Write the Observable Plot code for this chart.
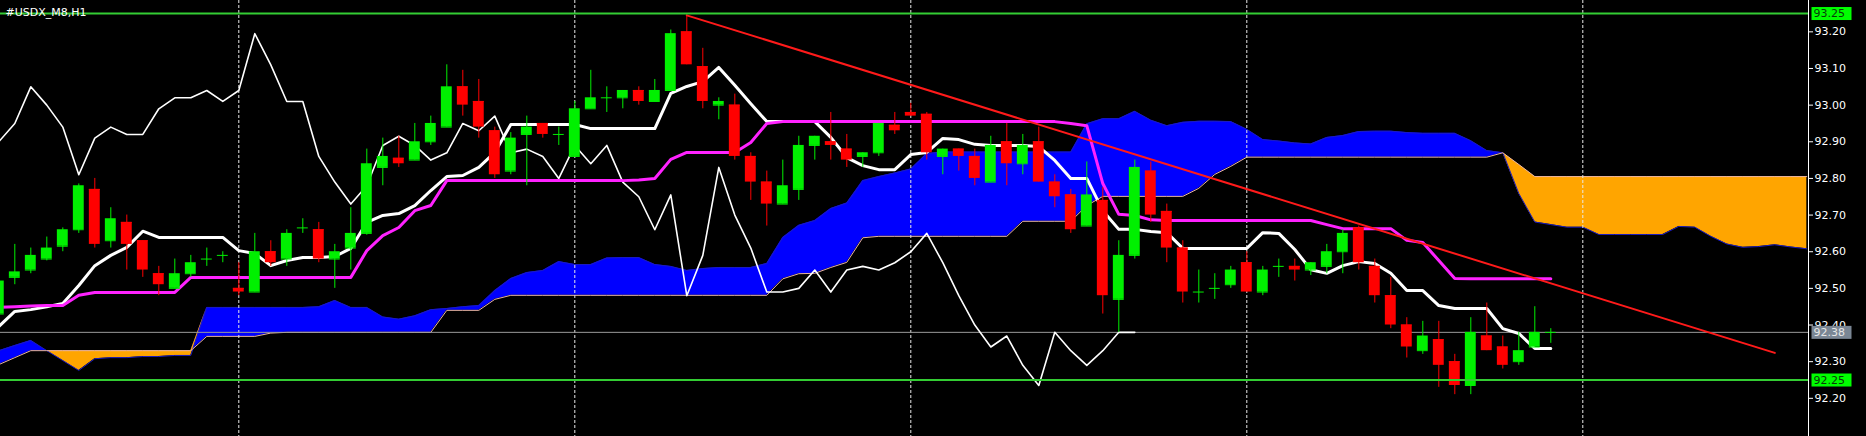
<!DOCTYPE html>
<html>
<head>
<meta charset="utf-8">
<script src="https://cdn.jsdelivr.net/npm/d3@7"></script>
<script src="https://cdn.jsdelivr.net/npm/@observablehq/plot@0.6"></script>
<style>
  html, body { margin: 0; padding: 0; background: #000; overflow: hidden; }
  #chart svg { display: block; }
</style>
</head>
<body>
<div id="chart"></div>
<script>
// ---- Data (USDX H1 candles, index 0..97) ----
const titleText = "#USDX_M8,H1";
const open  = [92.43,92.53,92.55,92.58,92.615,92.66,92.77,92.63,92.68,92.63,92.54,92.50,92.54,92.58,92.59,92.50,92.49,92.60,92.58,92.665,
               92.66,92.58,92.61,92.65,92.83,92.855,92.85,92.90,92.94,93.05,93.01,92.93,92.82,92.92,92.95,92.92,92.86,92.99,93.02,93.02,
               93.04,93.01,93.04,93.20,93.105,93.00,93.00,92.86,92.79,92.73,92.77,92.89,92.90,92.88,92.86,92.87,92.945,92.98,92.975,92.86,
               92.88,92.86,92.79,92.90,92.84,92.90,92.79,92.755,92.67,92.74,92.47,92.59,92.82,92.71,92.61,92.49,92.50,92.51,92.57,92.49,
               92.56,92.56,92.55,92.56,92.60,92.665,92.56,92.48,92.40,92.33,92.36,92.30,92.235,92.37,92.34,92.30,92.34,92.38];
const high  = [92.55,92.62,92.61,92.64,92.665,92.785,92.80,92.72,92.70,92.63,92.56,92.58,92.59,92.61,92.60,92.57,92.65,92.63,92.66,92.69,
               92.68,92.62,92.72,92.88,92.91,92.915,92.95,92.97,93.11,93.095,93.07,92.94,92.925,92.97,92.95,92.94,93.01,93.095,93.05,93.04,
               93.05,93.07,93.205,93.245,93.155,93.02,93.03,92.87,92.82,92.85,92.915,92.915,92.98,92.92,92.87,92.95,92.98,93.005,92.98,92.88,
               92.88,92.88,92.915,92.95,92.92,92.94,92.81,92.77,92.845,92.775,92.63,92.85,92.845,92.73,92.63,92.55,92.54,92.56,92.60,92.56,
               92.58,92.58,92.57,92.62,92.66,92.67,92.58,92.53,92.42,92.41,92.41,92.32,92.42,92.46,92.37,92.38,92.45,92.39];
const low   = [92.42,92.51,92.54,92.575,92.60,92.65,92.61,92.61,92.55,92.53,92.48,92.50,92.53,92.56,92.57,92.48,92.49,92.56,92.56,92.65,
               92.57,92.50,92.55,92.645,92.78,92.83,92.85,92.89,92.94,92.97,92.91,92.80,92.81,92.78,92.91,92.89,92.86,92.99,92.98,92.99,
               93.00,93.01,93.04,93.11,92.99,92.96,92.85,92.74,92.67,92.73,92.74,92.85,92.85,92.83,92.83,92.86,92.92,92.97,92.85,92.81,
               92.82,92.78,92.79,92.78,92.81,92.79,92.72,92.65,92.67,92.43,92.38,92.58,92.68,92.57,92.46,92.46,92.47,92.50,92.49,92.48,
               92.53,92.52,92.535,92.54,92.54,92.55,92.46,92.39,92.31,92.32,92.23,92.21,92.21,92.33,92.28,92.29,92.34,92.35];
const close = [92.52,92.545,92.59,92.61,92.66,92.78,92.62,92.69,92.62,92.55,92.51,92.54,92.57,92.58,92.59,92.49,92.60,92.57,92.65,92.665,
               92.58,92.60,92.65,92.84,92.86,92.84,92.90,92.95,93.05,93.00,92.94,92.81,92.91,92.94,92.92,92.92,92.99,93.02,93.02,93.04,
               93.01,93.04,93.195,93.11,93.01,93.01,92.86,92.79,92.73,92.78,92.89,92.915,92.89,92.85,92.87,92.95,92.93,92.97,92.87,92.88,
               92.86,92.80,92.89,92.84,92.89,92.79,92.75,92.66,92.755,92.48,92.59,92.83,92.70,92.61,92.49,92.49,92.50,92.55,92.49,92.55,
               92.56,92.55,92.57,92.60,92.65,92.57,92.48,92.40,92.34,92.37,92.29,92.235,92.38,92.33,92.29,92.33,92.38,92.38];

// Ichimoku lines
const tenkan = [92.396,92.437,92.442,92.450,92.459,92.508,92.562,92.590,92.612,92.656,
                92.639,92.639,92.639,92.639,92.639,92.603,92.595,92.562,92.576,92.584,
                92.584,92.587,92.609,92.680,92.699,92.704,92.726,92.767,92.805,92.808,
                92.830,92.871,92.947,92.947,92.947,92.947,92.947,92.936,92.936,92.936,
                92.936,92.936,93.032,93.051,93.064,93.103,93.054,93.004,92.955,92.955,
                92.955,92.955,92.912,92.857,92.835,92.824,92.824,92.865,92.871,92.909,
                92.906,92.893,92.890,92.890,92.890,92.887,92.849,92.800,92.800,92.712,
                92.661,92.661,92.655,92.652,92.609,92.609,92.609,92.609,92.609,92.652,
                92.650,92.606,92.551,92.541,92.562,92.573,92.568,92.541,92.494,92.494,
                92.453,92.445,92.445,92.445,92.390,92.377,92.336,92.336];
const kijun  = [92.448,92.450,92.452,92.453,92.453,92.481,92.489,92.489,92.489,92.489,
                92.489,92.489,92.530,92.530,92.530,92.530,92.530,92.530,92.530,92.530,
                92.530,92.530,92.530,92.603,92.644,92.666,92.712,92.726,92.794,92.794,
                92.794,92.794,92.794,92.794,92.794,92.794,92.794,92.794,92.794,92.794,
                92.796,92.800,92.852,92.871,92.871,92.871,92.871,92.898,92.950,92.955,
                92.955,92.955,92.955,92.955,92.955,92.955,92.955,92.955,92.955,92.955,
                92.955,92.955,92.955,92.955,92.955,92.955,92.955,92.950,92.944,92.786,
                92.702,92.699,92.687,92.685,92.685,92.685,92.685,92.685,92.685,92.685,
                92.685,92.685,92.685,92.674,92.663,92.663,92.663,92.663,92.631,92.625,
                92.576,92.527,92.526,92.526,92.526,92.526,92.526,92.526];
// Cloud (index 0..113, extends into the future)
const senkouA = [92.330,92.344,92.358,92.330,92.303,92.276,92.308,92.311,92.311,92.314,
                 92.314,92.317,92.317,92.448,92.448,92.448,92.448,92.448,92.448,92.448,
                 92.450,92.467,92.448,92.448,92.422,92.416,92.425,92.442,92.445,92.450,
                 92.453,92.494,92.527,92.543,92.549,92.573,92.565,92.565,92.583,92.584,
                 92.584,92.565,92.560,92.549,92.554,92.557,92.557,92.557,92.568,92.639,
                 92.672,92.685,92.718,92.733,92.794,92.805,92.815,92.826,92.868,92.872,
                 92.872,92.872,92.872,92.872,92.872,92.872,92.872,92.872,92.949,92.963,
                 92.963,92.983,92.959,92.944,92.953,92.956,92.956,92.955,92.934,92.906,
                 92.902,92.897,92.894,92.912,92.917,92.928,92.929,92.929,92.925,92.923,
                 92.923,92.923,92.903,92.876,92.870,92.759,92.681,92.674,92.667,92.667,
                 92.647,92.647,92.647,92.647,92.647,92.669,92.667,92.642,92.621,92.612,
                 92.614,92.619,92.613,92.608];
const senkouB = [92.292,92.311,92.330,92.330,92.330,92.330,92.330,92.330,92.330,92.330,
                 92.330,92.330,92.330,92.369,92.369,92.369,92.369,92.378,92.380,92.380,
                 92.380,92.380,92.380,92.380,92.380,92.380,92.380,92.380,92.440,92.440,
                 92.440,92.470,92.481,92.481,92.481,92.481,92.481,92.481,92.481,92.481,
                 92.481,92.481,92.481,92.481,92.481,92.481,92.481,92.481,92.481,92.526,
                 92.540,92.541,92.557,92.571,92.638,92.642,92.642,92.642,92.642,92.642,
                 92.642,92.642,92.642,92.642,92.683,92.683,92.683,92.683,92.726,92.751,
                 92.751,92.751,92.751,92.751,92.751,92.773,92.811,92.833,92.858,92.858,
                 92.858,92.858,92.858,92.858,92.858,92.858,92.858,92.858,92.858,92.858,
                 92.858,92.858,92.858,92.858,92.870,92.838,92.805,92.805,92.805,92.805,
                 92.805,92.805,92.805,92.805,92.805,92.805,92.805,92.805,92.805,92.805,
                 92.805,92.805,92.805,92.805];

// Trend line, levels, grid, ticks
const trendIdx   = [43, 111];
const trendPrice = [93.245, 92.324];
const levels     = [93.25, 92.25];
const bidPrice   = 92.38;
const gridIdx    = [15, 36, 57, 78, 99];
const yTicks     = [92.20,92.30,92.40,92.50,92.60,92.70,92.80,92.90,93.00,93.10,93.20];

// ---- Tables built from the arrays ----
const candles = open.map((o, i) => ({i, o, h: high[i], l: low[i], c: close[i]}));
const cloud = senkouA.map((a, i) => ({i, a, b: senkouB[i]}));
const lines = tenkan.map((t, i) => ({i, t, k: kijun[i]}));
// Chikou span: close plotted 26 bars back
const chikou = close.slice(25).map((c, k) => ({i: k - 1, v: c}));
const trend = trendIdx.map((i, k) => ({i, p: trendPrice[k]}));

const xDomain = [0.10625, 113.10625];
const yDomain = [92.0958, 93.2855];
const up = "#00f000", down = "#ff0000";
const col = d => d.c >= d.o ? up : down;

const svg = Plot.plot({
  width: 1866, height: 436,
  marginLeft: 0, marginRight: 58, marginTop: 0, marginBottom: 0,
  style: {background: "#000", color: "#fff", fontFamily: "DejaVu Sans", fontSize: "11px"},
  x: {type: "linear", domain: xDomain, axis: null},
  y: {type: "linear", domain: yDomain},
  marks: [
    Plot.areaY(cloud, {x: "i", y1: "b", y2: d => Math.max(d.a, d.b), fill: "#0000ff", clip: true}),
    Plot.areaY(cloud, {x: "i", y1: "a", y2: d => Math.max(d.a, d.b), fill: "#ffa500", clip: true}),
    Plot.line(cloud, {x: "i", y: "a", stroke: "#1c1cc0", strokeWidth: 1, clip: true}),
    Plot.line(cloud, {x: "i", y: "b", stroke: "#e8b4a4", strokeWidth: 1, clip: true}),
    Plot.ruleX(gridIdx, {stroke: "#e8e8e8", strokeWidth: 1, strokeDasharray: "3,2"}),
    Plot.ruleY([bidPrice], {stroke: "#9a9a9a", strokeWidth: 1}),
    Plot.line(chikou, {x: "i", y: "v", stroke: "#fff", strokeWidth: 1.6, clip: true}),
    Plot.line(lines, {x: "i", y: "t", stroke: "#fff", strokeWidth: 3, clip: true}),
    Plot.line(lines, {x: "i", y: "k", stroke: "#ff22ff", strokeWidth: 3, clip: true}),
    Plot.ruleX(candles, {x: "i", y1: "l", y2: "h", stroke: col, strokeWidth: 1, clip: true}),
    Plot.rect(candles, {x1: d => d.i - 0.34, x2: d => d.i + 0.34,
      y1: d => Math.min(d.o, d.c), y2: d => Math.max(d.o, d.c), fill: col, clip: true}),
    Plot.ruleY(candles, {y: "o", x1: d => d.i - 0.34, x2: d => d.i + 0.34, stroke: col, strokeWidth: 1, clip: true}),
    Plot.line(trend, {x: "i", y: "p", stroke: "#ff1a1a", strokeWidth: 2, clip: true}),
    Plot.ruleY(levels, {stroke: "#33cc33", strokeWidth: 2}),
    Plot.axisY(yTicks, {anchor: "right", tickSize: 4, tickPadding: 2,
      tickFormat: d => d.toFixed(2), fontSize: 11, fill: "#fff", stroke: "#fff"}),
    Plot.ruleX([xDomain[1]], {stroke: "#fff", strokeWidth: 1}),
    Plot.text(levels, {y: d => d, text: d => d.toFixed(2), frameAnchor: "right", dx: 5,
      textAnchor: "start", fill: "#0a3a0a", fontSize: 11}),
    Plot.text([bidPrice], {y: d => d, text: d => d.toFixed(2), frameAnchor: "right", dx: 5,
      textAnchor: "start", fill: "#e6e6e6", fontSize: 11}),
    Plot.text([titleText], {frameAnchor: "top-left", dx: 5, dy: 7.5, textAnchor: "start",
      fill: "#fff", fontSize: 11})
  ]
});
document.getElementById("chart").append(svg);

// Price-label boxes behind level / bid texts
const boxFill = {};
levels.forEach(v => boxFill[v.toFixed(2)] = "#00ff00");
boxFill[bidPrice.toFixed(2)] = "#7a8694";
d3.select(svg).selectAll("text").each(function() {
  const t = this.textContent;
  if (!(t in boxFill)) return;
  if (this.closest("g[aria-label='y-axis tick label']")) return;
  const b = this.getBBox();
  const r = document.createElementNS("http://www.w3.org/2000/svg", "rect");
  r.setAttribute("x", b.x - 2);
  r.setAttribute("y", b.y + b.height / 2 - 6.5);
  r.setAttribute("width", 40);
  r.setAttribute("height", 13);
  r.setAttribute("fill", boxFill[t]);
  r.setAttribute("stroke", "none");
  const tr = this.getAttribute("transform");
  if (tr) r.setAttribute("transform", tr);
  this.parentNode.insertBefore(r, this);
});
</script>
</body>
</html>
